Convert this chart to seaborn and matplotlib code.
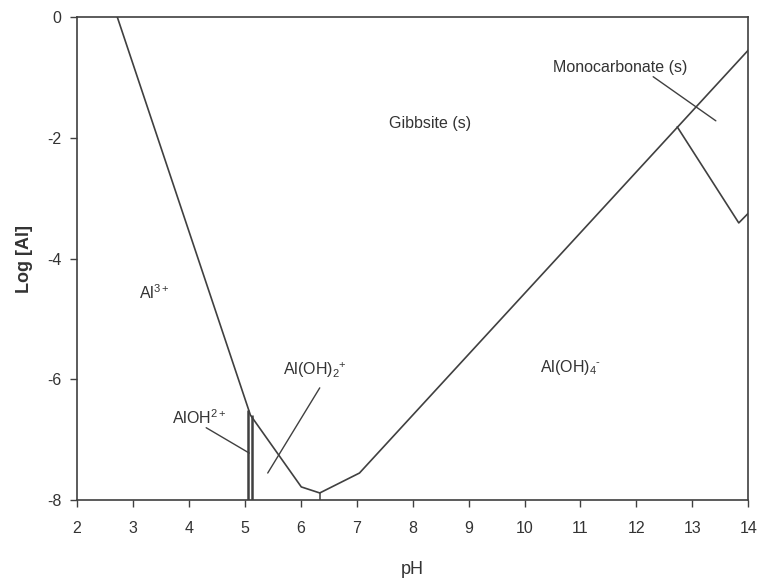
import matplotlib
matplotlib.use("Agg")
import matplotlib.pyplot as plt
import seaborn as sns
import pandas as pd

sns.set_theme(style="white")
plt.rcParams["font.family"] = ["Liberation Sans", "DejaVu Sans"]
plt.rcParams["axes.unicode_minus"] = False
plt.rcParams["mathtext.fontset"] = "custom"
plt.rcParams["mathtext.rm"] = "Liberation Sans"
plt.rcParams["mathtext.default"] = "regular"

# Gibbsite solubility boundary (pH, log[Al])
gibbsite_ph = [2.72, 5.10, 6.01, 6.34, 7.05, 14.0]
gibbsite_log = [0.0, -6.59, -7.78, -7.88, -7.55, -0.55]

# Monocarbonate boundary
mono_ph = [12.73, 13.83, 14.0]
mono_log = [-1.82, -3.41, -3.25]

# Vertical species boundaries (pH, top log[Al])
vert_ph = [5.05, 5.12, 6.34]
vert_top = [-6.50, -6.59, -7.88]

# Region labels: text, pH, log[Al]
labels = ["Gibbsite (s)", "Al$^{3+}$", "Al(OH)$_4$$^{\u2010}$", "Al(OH)$_2$$^{+}$",
          "AlOH$^{2+}$", "Monocarbonate (s)"]
label_ph = [8.31, 3.38, 10.82, 6.25, 4.19, 11.71]
label_log = [-1.77, -4.57, -5.81, -5.84, -6.64, -0.83]

# Leader lines: start pH, start log, end pH, end log
lead_x0 = [4.31, 6.34, 12.30]
lead_y0 = [-6.80, -6.14, -0.99]
lead_x1 = [5.08, 5.41, 13.42]
lead_y1 = [-7.22, -7.55, -1.72]

line_color = "#404040"
text_color = "#333333"

fig = plt.figure(figsize=(7.62, 5.83), dpi=100)
ax = fig.add_axes([0.101, 0.142, 0.881, 0.829])

gib = pd.DataFrame({"pH": gibbsite_ph, "logAl": gibbsite_log})
sns.lineplot(data=gib, x="pH", y="logAl", sort=False, color=line_color,
             linewidth=1.2, ax=ax)
mono = pd.DataFrame({"pH": mono_ph, "logAl": mono_log})
sns.lineplot(data=mono, x="pH", y="logAl", sort=False, color=line_color,
             linewidth=1.2, ax=ax)

for i, (xv, top) in enumerate(zip(vert_ph, vert_top)):
    ax.vlines(xv, -8, top, color=line_color, linewidth=1.8 if i < 2 else 1.1)

for x0, y0, x1, y1 in zip(lead_x0, lead_y0, lead_x1, lead_y1):
    ax.plot([x0, x1], [y0, y1], color=line_color, linewidth=1.0)

for t, xv, yv in zip(labels, label_ph, label_log):
    ax.text(xv, yv, t, ha="center", va="center", fontsize=11.5, color=text_color)

ax.set_xlim(2, 14)
ax.set_ylim(-8, 0)
ax.set_xticks(range(2, 15))
ax.set_yticks([0, -2, -4, -6, -8])
ax.set_yticklabels(["0", "-2", "-4", "-6", "-8"])
ax.tick_params(direction="out", length=5, width=1, color=line_color,
               labelsize=11.5, labelcolor=text_color, bottom=True, left=True)
ax.tick_params(axis="x", pad=10)
ax.tick_params(axis="y", pad=6)
for s in ax.spines.values():
    s.set_color(line_color)
    s.set_linewidth(1.2)
ax.set_xlabel("pH", fontsize=13, color=text_color, labelpad=18)
ax.set_ylabel("Log [Al]", fontsize=13, color=text_color, fontweight="bold", labelpad=10)

fig.savefig("out.png", dpi=100)
